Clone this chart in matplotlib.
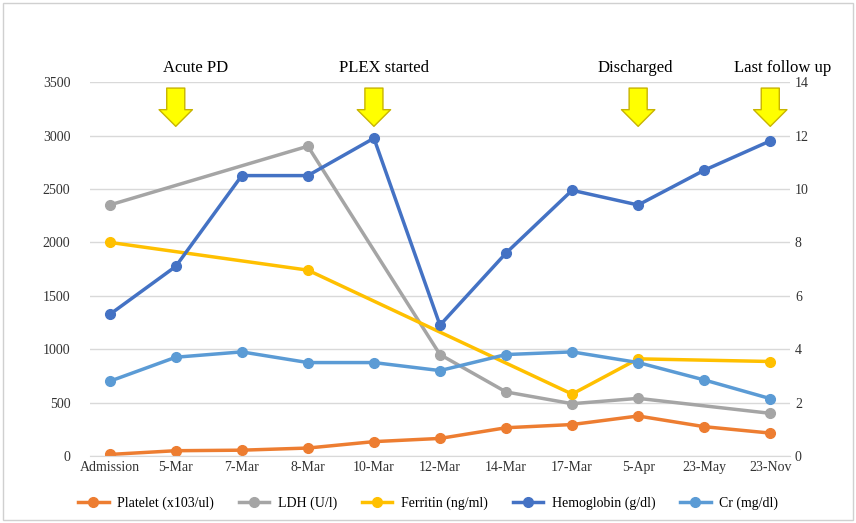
import matplotlib
matplotlib.use("Agg")
import matplotlib.pyplot as plt
import numpy as np

plt.rcParams['font.family'] = ['Liberation Serif', 'DejaVu Serif']

cats = ["Admission", "5-Mar", "7-Mar", "8-Mar", "10-Mar", "12-Mar", "14-Mar", "17-Mar", "5-Apr", "23-May", "23-Nov"]
platelet = [15, 50, 55, 75, 135, 165, 265, 295, 375, 275, 215]
ldh = [2350, None, None, 2900, None, 950, 600, 490, 540, None, 400]
ferritin = [2000, None, None, 1740, None, None, None, 580, 910, None, 885]
hemoglobin = [5.3, 7.1, 10.5, 10.5, 11.9, 4.9, 7.6, 9.95, 9.4, 10.7, 11.8]
cr = [2.8, 3.7, 3.9, 3.5, 3.5, 3.2, 3.8, 3.9, 3.5, 2.85, 2.15]
events = [("Acute PD", 1, 0.3), ("PLEX started", 4, 0.15), ("Discharged", 8, -0.05), ("Last follow up", 10, 0.18)]

fig = plt.figure(figsize=(8.56, 5.23), dpi=100)
fig.patches.append(plt.Rectangle((0.003, 0.005), 0.994, 0.99, transform=fig.transFigure,
                                 fill=False, ec='#d0d0d0', lw=1))
ax = fig.add_axes([0.105, 0.128, 0.818, 0.715])
ax2 = ax.twinx()
x = np.arange(len(cats))

def xy(vals):
    pts = [(i, v) for i, v in enumerate(vals) if v is not None]
    return [p[0] for p in pts], [p[1] for p in pts]

ms = 7
l1, = ax.plot(*xy(platelet), color='#ED7D31', lw=2.5, marker='o', ms=ms, label='Platelet (x103/ul)')
l2, = ax.plot(*xy(ldh), color='#A5A5A5', lw=2.5, marker='o', ms=ms, label='LDH (U/l)')
l3, = ax.plot(*xy(ferritin), color='#FFC000', lw=2.5, marker='o', ms=ms, label='Ferritin (ng/ml)')
l4, = ax2.plot(x, hemoglobin, color='#4472C4', lw=2.5, marker='o', ms=ms, label='Hemoglobin (g/dl)')
l5, = ax2.plot(x, cr, color='#5B9BD5', lw=2.5, marker='o', ms=ms, label='Cr (mg/dl)')

ax.set_ylim(0, 3500)
ax.set_yticks(range(0, 3501, 500))
ax2.set_ylim(0, 14)
ax2.set_yticks(range(0, 15, 2))
ax.set_xlim(-0.3, 10.3)
ax.set_xticks(x)
ax.set_xticklabels(cats)
ax.grid(axis='y', color='#d9d9d9', lw=1)
ax.set_axisbelow(True)
for a in (ax, ax2):
    for s in a.spines.values():
        s.set_visible(False)
    a.tick_params(length=0, labelsize=10, colors='#333333')
ax.tick_params(axis='y', pad=14)
ax.spines['bottom'].set_visible(True)
ax.spines['bottom'].set_color('#d9d9d9')

for label, i, dx in events:
    ax.annotate('', xy=(i, 3060), xytext=(i, 3470), annotation_clip=False,
                arrowprops=dict(arrowstyle='simple,head_width=2.4,head_length=1.2,tail_width=1.3',
                                fc='#FFFF00', ec='#C8B400', lw=1))
    ax.text(i + dx, 3560, label, ha='center', va='bottom', fontsize=12, clip_on=False)

fig.legend(handles=[l1, l2, l3, l4, l5], loc='lower center', ncol=5, frameon=False,
           bbox_to_anchor=(0.5, 0.0), fontsize=10, handlelength=2.2, columnspacing=1.8,
           handletextpad=0.6)
fig.savefig('out.png', dpi=100)
